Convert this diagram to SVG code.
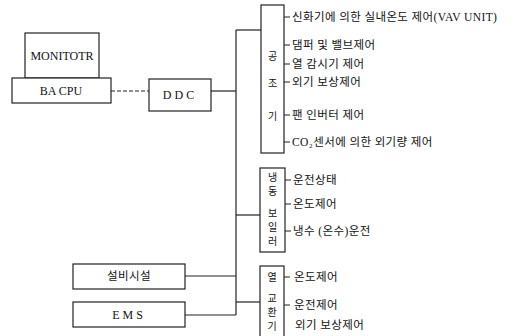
<svg xmlns="http://www.w3.org/2000/svg" width="524" height="336" viewBox="0 0 524 336">
<style>
.box{fill:#fff;stroke:#222;stroke-width:1.2}
.ln{fill:none;stroke:#222;stroke-width:1.2}
.dash{fill:none;stroke:#222;stroke-width:1.2;stroke-dasharray:4 2}
.en{font-family:"Liberation Serif",serif;font-size:12px;fill:#111}
.ko{font-family:"Liberation Serif","Noto Sans CJK KR",serif;font-size:11.5px;fill:#111;letter-spacing:0.4px}
.kv{font-family:"Noto Sans CJK KR",serif;font-size:10px;fill:#111;text-anchor:middle}
</style>
<rect width="524" height="336" fill="#fff"/>
<g id="connectors">
<path class="dash" d="M111,91 H149"/>
<path class="ln" d="M211,91 H236"/>
<path class="ln" d="M236,30 V315"/>
<path class="ln" d="M236,30 H261"/>
<path class="ln" d="M236,215 H260"/>
<path class="ln" d="M236,302 H260"/>
<path class="ln" d="M185,276 H236"/>
<path class="ln" d="M185,315 H236"/>
<path class="ln" d="M284,17 H290 M284,45 H290 M284,64 H290 M284,82 H290 M284,115 H290 M284,142 H290"/>
<path class="ln" d="M285,180 H291 M285,204 H291 M285,231 H291"/>
<path class="ln" d="M284,277 H290 M284,305 H290"/>
</g>
<g id="monitor">
<rect class="box" x="25" y="33" width="74" height="45"/>
<text class="en" x="62" y="60" text-anchor="middle">MONITOTR</text>
</g>
<g id="bacpu">
<rect class="box" x="12" y="78" width="99" height="25"/>
<text class="en" x="61" y="95" text-anchor="middle">BA CPU</text>
</g>
<g id="ddc">
<rect class="box" x="149" y="79" width="62" height="32"/>
<text class="en" x="180" y="99" text-anchor="middle" letter-spacing="3">DDC</text>
</g>
<g id="facility">
<rect class="box" x="73" y="264" width="112" height="25"/>
<text class="ko" x="129" y="280" text-anchor="middle" font-size="9px">설비시설</text>
</g>
<g id="ems">
<rect class="box" x="73" y="302" width="112" height="25"/>
<text class="en" x="129" y="319" text-anchor="middle" letter-spacing="3">EMS</text>
</g>
<g id="ahu">
<rect class="box" x="261" y="5" width="23" height="148"/>
<text class="kv" x="272.5" y="60">공</text>
<text class="kv" x="272.5" y="87">조</text>
<text class="kv" x="272.5" y="120">기</text>
<text class="ko" x="292" y="21">신화기에 의한 실내온도 제어(VAV UNIT)</text>
<text class="ko" x="292" y="49">댐퍼 및 밸브제어</text>
<text class="ko" x="292" y="68">열 감시기 제어</text>
<text class="ko" x="292" y="86">외기 보상제어</text>
<text class="ko" x="292" y="119">팬 인버터 제어</text>
<text class="ko" x="292" y="146">CO₂센서에 의한 외기량 제어</text>
</g>
<g id="chiller">
<rect class="box" x="260" y="168" width="25" height="84"/>
<text class="kv" x="272.5" y="181">냉</text>
<text class="kv" x="272.5" y="195">동</text>
<text class="kv" x="272.5" y="217">보</text>
<text class="kv" x="272.5" y="231">일</text>
<text class="kv" x="272.5" y="245">러</text>
<text class="ko" x="293" y="184">운전상태</text>
<text class="ko" x="293" y="208">온도제어</text>
<text class="ko" x="293" y="235">냉수 (온수)운전</text>
</g>
<g id="hex">
<rect class="box" x="260" y="266" width="24" height="75"/>
<text class="kv" x="272" y="281">열</text>
<text class="kv" x="272" y="302">교</text>
<text class="kv" x="272" y="316">환</text>
<text class="kv" x="272" y="330">기</text>
<text class="ko" x="294" y="281">온도제어</text>
<text class="ko" x="294" y="309">운전제어</text>
<text class="ko" x="295" y="329">외기 보상제어</text>
</g>
</svg>
